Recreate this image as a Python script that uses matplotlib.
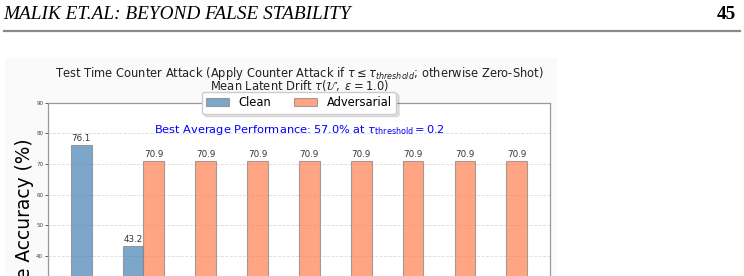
import matplotlib
matplotlib.use("Agg")
import matplotlib.pyplot as plt
from matplotlib.patches import Rectangle
from matplotlib.lines import Line2D
import numpy as np

# thresholds (x tick labels are below the visible crop)
thresholds = ['0.1', '0.2', '0.3', '0.4', '0.5', '0.6', '0.7', '0.8', '0.9']
clean_acc = [76.1, 43.2, 22.0, 15.0, 11.0, 8.0, 6.0, 5.0, 4.0]
adv_acc = [0.0, 70.9, 70.9, 70.9, 70.9, 70.9, 70.9, 70.9, 70.9]
best_avg = 57.0
best_tau = 0.2

W, H = 744, 276
fig = plt.figure(figsize=(W / 100, H / 100), dpi=100)
fig.patch.set_facecolor('white')

def fx(px):
    return px / W

def fy(py):
    return 1 - py / H

# page header
fig.text(fx(3), fy(19.3), 'MALIK ET.AL: BEYOND FALSE STABILITY', family='Liberation Serif',
         style='italic', fontsize=13.9, va='baseline', ha='left', color='black')
fig.text(fx(736), fy(19.3), '45', family='Liberation Serif', weight='bold',
         fontsize=13.9, va='baseline', ha='right', color='black')
fig.lines.append(Line2D([fx(4), fx(740)], [fy(31), fy(31)], transform=fig.transFigure,
                        color='#8a8a8a', lw=1.6))

# faint background of the embedded chart
fig.patches.append(Rectangle((fx(5), 0), fx(557) - fx(5), fy(58), transform=fig.transFigure,
                             facecolor='#fafafa', edgecolor='none', zorder=-5))

ax = fig.add_axes([fx(48), fy(378.7), fx(550) - fx(48), 276 / H])
ax.set_facecolor('white')

x = np.arange(len(thresholds))
width = 0.4
b1 = ax.bar(x - width / 2, clean_acc, width, label='Clean', color='steelblue',
            alpha=0.7, edgecolor='grey', linewidth=0.8)
b2 = ax.bar(x + width / 2, adv_acc, width, label='Adversarial', color='coral',
            alpha=0.7, edgecolor='grey', linewidth=0.8)

for bars in (b1, b2):
    for bar in bars:
        h = bar.get_height()
        if h > 0:
            ax.text(bar.get_x() + bar.get_width() / 2, h + 0.8, f'{h:.1f}',
                    ha='center', va='bottom', fontsize=6.3, color='#333333')

ax.set_ylim(0, 90)
ax.set_yticks(np.arange(0, 91, 10))
ax.set_xticks(x)
ax.set_xticklabels(thresholds)
ax.tick_params(axis='y', labelsize=4, length=2, width=0.6, colors='#444444', pad=1.5)
ax.grid(axis='y', linestyle='--', color='#cccccc', alpha=0.7, lw=0.6)
ax.set_axisbelow(True)
for s in ax.spines.values():
    s.set_color('#999999')
    s.set_linewidth(0.9)

ax.set_ylabel('Average Accuracy (%)', fontsize=13.4)
ax.yaxis.set_label_coords(-0.028, 0.5)

# two-line title, placed line by line to keep the tight spacing
fig.text(fx(299), fy(76.6), 'Test Time Counter Attack (Apply Counter Attack if '
         '$\\tau \\leq \\tau_{threshold}$; otherwise Zero-Shot)',
         ha='center', va='baseline', fontsize=8.3, color='#222222')
fig.text(fx(299), fy(90.3), 'Mean Latent Drift $\\tau(\\mathcal{U},\\ \\epsilon = 1.0)$',
         ha='center', va='baseline', fontsize=8.3, color='#222222')

ax.text(0.5, 0.9, f'Best Average Performance: {best_avg:.1f}% at '
        f'$\\tau_{{\\mathrm{{threshold}}}} = {best_tau}$',
        transform=ax.transAxes, ha='center', va='center', fontsize=8.2, color='blue')

ax.legend(loc='center', bbox_to_anchor=(0.5, 1.0), ncol=2, fontsize=8.3, fancybox=True,
          shadow={'alpha': 0.15}, framealpha=1)

fig.savefig('out.png', dpi=100)
